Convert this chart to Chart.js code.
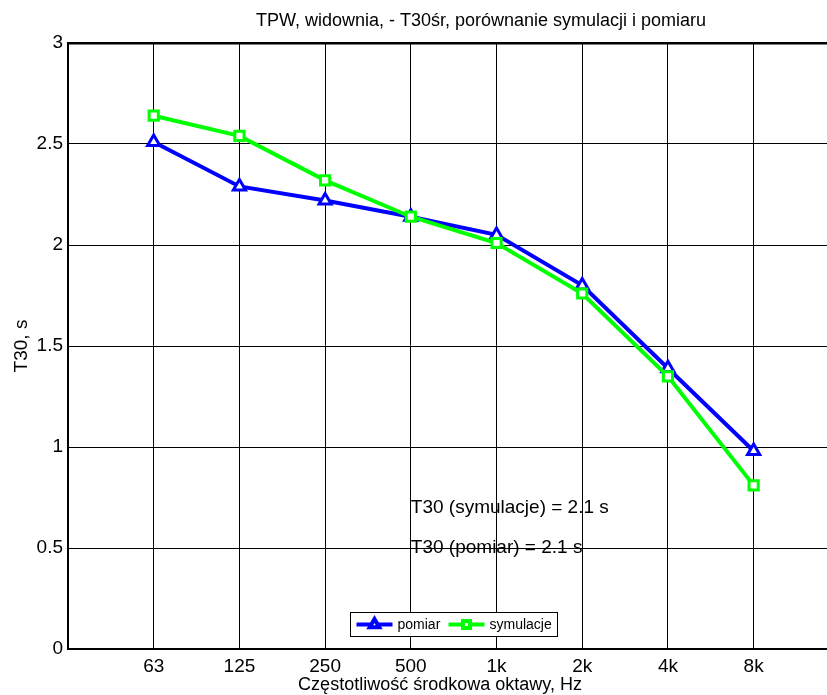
<!DOCTYPE html>
<html>
<head>
<meta charset="utf-8">
<script src="https://cdn.jsdelivr.net/npm/chart.js@4.4.1/dist/chart.umd.min.js"></script>
<style>
  html, body { margin: 0; padding: 0; background: #fff; overflow: hidden; }
  canvas { display: block; }
</style>
</head>
<body>
<!-- a bit wider than the window: the axes run off the right edge like in the original -->
<canvas id="chartT30" width="837" height="695"></canvas>
<script>
// data
const freqLabels = ['63', '125', '250', '500', '1k', '2k', '4k', '8k'];
const freqPos = [1, 2, 3, 4, 5, 6, 7, 8];
const pomiar = [2.51, 2.29, 2.22, 2.14, 2.05, 1.80, 1.39, 0.98];
const symulacje = [2.64, 2.54, 2.32, 2.14, 2.01, 1.76, 1.35, 0.81];
const yTicks = [0, 0.5, 1, 1.5, 2, 2.5, 3];
const titleText = 'TPW, widownia, - T30śr, porównanie symulacji i pomiaru';
const xTitle = 'Częstotliwość środkowa oktawy, Hz';
const yTitle = 'T30, s';
const notes = ['T30 (symulacje) = 2.1 s', 'T30 (pomiar) = 2.1 s'];
const noteY = [0.70, 0.50];

const FONT = "'Liberation Sans', Arial, Helvetica, sans-serif";

function toPoints(ys) {
    return freqPos.map((x, i) => ({ x: x, y: ys[i] }));
}

// texts, annotations and legend
const decorPlugin = {
    id: 'decor',
    afterDraw: function (chart) {
        const ctx = chart.ctx;
        const area = chart.chartArea;
        const xs = chart.scales.x;
        const ys = chart.scales.y;

        ctx.save();
        ctx.fillStyle = '#000';
        ctx.textAlign = 'center';
        ctx.textBaseline = 'middle';
        ctx.font = '18px ' + FONT;
        ctx.fillText(titleText, 481, 21);
        ctx.fillText(xTitle, 440, 685);

        ctx.font = '19px ' + FONT;
        ctx.save();
        ctx.translate(22, (area.top + area.bottom) / 2);
        ctx.rotate(-Math.PI / 2);
        ctx.fillText(yTitle, 0, 0);
        ctx.restore();

        // annotations at 500 Hz
        ctx.textAlign = 'left';
        notes.forEach(function (t, i) {
            ctx.fillText(t, xs.getPixelForValue(4), ys.getPixelForValue(noteY[i]));
        });

        // legend
        const lx = 350.5, ly = area.bottom - 36.5, lw = 207, lh = 24;
        ctx.fillStyle = '#fff';
        ctx.fillRect(lx, ly, lw, lh);
        ctx.strokeStyle = '#000';
        ctx.lineWidth = 1;
        ctx.strokeRect(lx, ly, lw, lh);
        const cy = ly + lh / 2;
        const items = chart.data.datasets.map(function (d, i) {
            return { ds: d, x0: lx + [6, 98][i], label: d.label };
        });
        ctx.font = '14px ' + FONT;
        items.forEach(function (it) {
            ctx.strokeStyle = it.ds.borderColor;
            ctx.lineWidth = 4;
            ctx.beginPath();
            ctx.moveTo(it.x0, cy);
            ctx.lineTo(it.x0 + 36, cy);
            ctx.stroke();
            ctx.fillStyle = '#fff';
            Chart.helpers.drawPoint(ctx, {
                pointStyle: it.ds.pointStyle,
                radius: it.ds.pointRadius - 1.5,
                borderWidth: 2.5,
                rotation: 0
            }, it.x0 + 18, cy);
            ctx.fillStyle = '#000';
            ctx.fillText(it.label, it.x0 + 41, cy + 1);
        });
        ctx.restore();
    }
};

new Chart(document.getElementById('chartT30'), {
    type: 'line',
    data: {
        datasets: [{
            label: 'pomiar',
            data: toPoints(pomiar),
            borderColor: '#0000ff',
            backgroundColor: '#ffffff',
            borderWidth: 4,
            pointStyle: 'triangle',
            pointRadius: 7,
            pointBorderWidth: 3,
            pointBackgroundColor: '#ffffff',
            order: 2
        }, {
            label: 'symulacje',
            data: toPoints(symulacje),
            borderColor: '#00ff00',
            backgroundColor: '#ffffff',
            borderWidth: 4,
            pointStyle: 'rect',
            pointRadius: 6.5,
            pointBorderWidth: 3,
            pointBackgroundColor: '#ffffff',
            order: 1
        }]
    },
    options: {
        responsive: false,
        animation: false,
        devicePixelRatio: 1,
        layout: { padding: { top: 43, left: 0, right: 0, bottom: 0 } },
        plugins: {
            legend: { display: false },
            title: { display: false },
            tooltip: { enabled: false }
        },
        scales: {
            x: {
                type: 'linear',
                min: 0,
                max: 8.856,
                afterBuildTicks: function (scale) {
                    scale.ticks = freqPos.map(v => ({ value: v }));
                },
                afterFit: function (scale) {
                    scale.height = 46;
                    scale.paddingLeft = 0;
                    scale.paddingRight = 0;
                },
                ticks: {
                    autoSkip: false,
                    maxRotation: 0,
                    padding: 6,
                    color: '#000',
                    font: { family: FONT, size: 19 },
                    callback: function (v) { return freqLabels[freqPos.indexOf(v)]; }
                },
                grid: { color: '#000', lineWidth: 1, drawTicks: false },
                border: { display: true, color: '#000', width: 2 }
            },
            y: {
                min: 0,
                max: 3,
                afterBuildTicks: function (scale) {
                    scale.ticks = yTicks.map(v => ({ value: v }));
                },
                afterFit: function (scale) { scale.width = 68; },
                ticks: {
                    padding: 5,
                    color: '#000',
                    font: { family: FONT, size: 19 },
                    callback: function (v) { return String(v); }
                },
                grid: {
                    color: '#000',
                    drawTicks: false,
                    lineWidth: function (c) { return c.tick && c.tick.value === 3 ? 2.5 : 1; }
                },
                border: { display: true, color: '#000', width: 2 }
            }
        }
    },
    plugins: [decorPlugin]
});
</script>
</body>
</html>
